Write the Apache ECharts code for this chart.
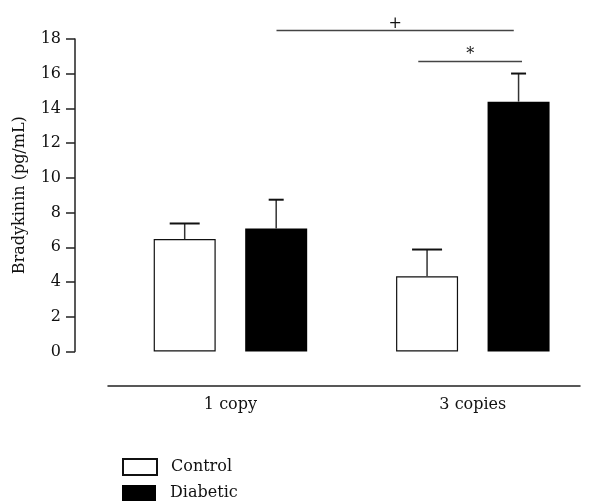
<!DOCTYPE html>
<html>
<head>
<meta charset="utf-8">
<script src="https://cdn.jsdelivr.net/npm/echarts@6/dist/echarts.min.js"></script>
<style>
  html, body { margin: 0; padding: 0; background: #fff; }
  #main { width: 594px; height: 502px; }
</style>
</head>
<body>
<div id="main"></div>
<script>
// data
var categories = ['1 copy', '3 copies'];
var controlMean = [6.47, 4.33];
var controlSem = [0.90, 1.54];
var diabeticMean = [7.08, 14.39];
var diabeticSem = [1.66, 1.62];
var yTicks = [0, 2, 4, 6, 8, 10, 12, 14, 16, 18];
// significance brackets: [start, end] in category units, height in pg/mL
var sigBrackets = [
    { mark: '+', from: 0.19, to: 1.169, y: 18.49 },
    { mark: '*', from: 0.775, to: 1.203, y: 16.70 }
];

var FONT = 'DejaVu Serif';
var FS = 16;
var BAR_W = 62;
var BAR_GAP = 29.5;

function errorSeries(name, means, sems, side, capW) {
    return {
        type: 'custom',
        name: name + ' error',
        xAxisIndex: 1,
        yAxisIndex: 1,
        z: 5,
        silent: true,
        data: means.map(function (m, i) { return [i, m, m + sems[i]]; }),
        renderItem: function (params, api) {
            var base = api.coord([api.value(0), api.value(1)]);
            var top = api.coord([api.value(0), api.value(2)]);
            var x = base[0] + side * (BAR_W + BAR_GAP) / 2;
            return {
                type: 'group',
                children: [
                    { type: 'line', shape: { x1: x, y1: base[1], x2: x, y2: top[1] },
                      style: { stroke: '#333', lineWidth: 1.5 } },
                    { type: 'line', shape: { x1: x - capW / 2, y1: top[1], x2: x + capW / 2, y2: top[1] },
                      style: { stroke: '#111', lineWidth: 2 } }
                ]
            };
        }
    };
}

function legendFor(name, top) {
    return {
        orient: 'vertical',
        left: 122,
        top: top,
        padding: 0,
        itemWidth: 34,
        itemHeight: 16,
        icon: 'rect',
        data: [name],
        selectedMode: false,
        textStyle: { fontFamily: FONT, fontSize: FS, color: '#111', padding: [0, 0, 0, 9] }
    };
}

var chart = echarts.init(document.getElementById('main'));

chart.setOption({
    animation: false,
    textStyle: { fontFamily: FONT },
    grid: [
        { left: 75, right: 14, top: 39, bottom: 150.6 },
        { left: 109.25, right: -2.25, top: 39, bottom: 150.6 },
        { left: 108, right: 14, top: 39, bottom: 150.6 }
    ],
    legend: [legendFor('Control', 458), legendFor('Diabetic', 485)],
    xAxis: [
        { type: 'value', gridIndex: 0, show: false },
        {
            type: 'category', gridIndex: 1, data: categories,
            offset: 34.6,
            axisLine: { show: false },
            axisTick: { show: false },
            axisLabel: { margin: 11, fontFamily: FONT, fontSize: FS, color: '#111' }
        },
        {
            type: 'value', gridIndex: 2, offset: 34.6,
            axisLine: { show: true, onZero: false, lineStyle: { color: '#222', width: 1.5 } },
            axisTick: { show: false },
            axisLabel: { show: false },
            splitLine: { show: false }
        }
    ],
    yAxis: [
        {
            type: 'value', gridIndex: 0, min: 0, max: 18, interval: 2,
            name: 'Bradykinin (pg/mL)',
            nameLocation: 'middle',
            nameGap: 47,
            nameTextStyle: { fontFamily: FONT, fontSize: FS, color: '#111' },
            axisLine: { show: true, onZero: false, lineStyle: { color: '#222', width: 1.5 } },
            axisTick: { show: true, length: 9, lineStyle: { color: '#222', width: 1.5 } },
            axisLabel: {
                margin: 14, fontFamily: FONT, fontSize: FS, color: '#111',
                formatter: function (v) { return yTicks.indexOf(v) >= 0 ? String(v) : ''; }
            },
            splitLine: { show: false }
        },
        { type: 'value', gridIndex: 1, min: 0, max: 18, show: false },
        { type: 'value', gridIndex: 2, min: 0, max: 18, show: false }
    ],
    series: [
        {
            type: 'bar', name: 'Control',
            xAxisIndex: 1, yAxisIndex: 1,
            data: controlMean,
            barWidth: BAR_W,
            barGap: (BAR_GAP / BAR_W * 100) + '%',
            itemStyle: { color: '#fff', borderColor: '#111', borderWidth: 1.2 }
        },
        {
            type: 'bar', name: 'Diabetic',
            xAxisIndex: 1, yAxisIndex: 1,
            data: diabeticMean,
            barWidth: BAR_W,
            itemStyle: { color: '#000', borderColor: '#000', borderWidth: 0 }
        },
        errorSeries('Control', controlMean, controlSem, -1, 30),
        errorSeries('Diabetic', diabeticMean, diabeticSem, 1, 15),
        {
            type: 'custom',
            name: 'significance',
            xAxisIndex: 1, yAxisIndex: 1,
            clip: false,
            silent: true,
            z: 6,
            data: sigBrackets.map(function (s) { return [s.from, s.to, s.y]; }),
            renderItem: function (params, api) {
                var s = sigBrackets[params.dataIndex];
                var base = api.coord([0, api.value(2)]);
                var band = api.size([1, 0])[0];
                var x1 = base[0] + api.value(0) * band;
                var x2 = base[0] + api.value(1) * band;
                return {
                    type: 'group',
                    children: [
                        { type: 'line', shape: { x1: x1, y1: base[1], x2: x2, y2: base[1] },
                          style: { stroke: '#444', lineWidth: 1.5 } },
                        { type: 'text', x: (x1 + x2) / 2, y: base[1] + 1,
                          style: { text: s.mark, fill: '#111', fontFamily: FONT, fontSize: FS,
                                   align: 'center', verticalAlign: 'bottom' } }
                    ]
                };
            }
        }
    ]
});
</script>
</body>
</html>
